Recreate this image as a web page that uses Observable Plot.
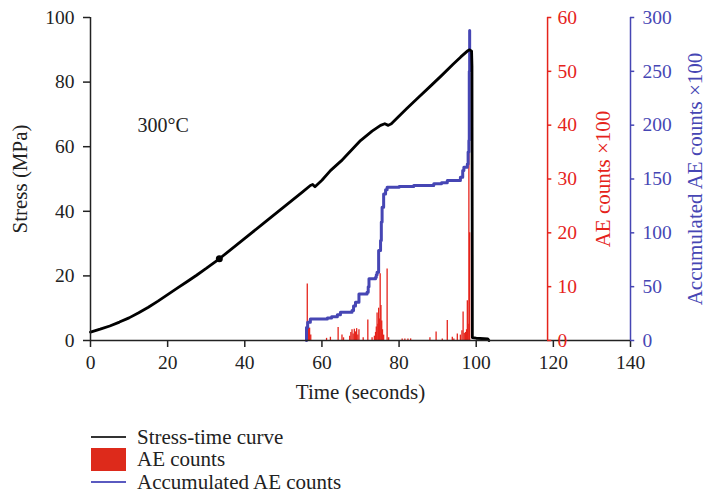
<!DOCTYPE html>
<html><head><meta charset="utf-8">
<script src="https://cdn.jsdelivr.net/npm/d3@7"></script>
<script src="https://cdn.jsdelivr.net/npm/@observablehq/plot@0.6"></script>
<style>
body{margin:0;background:#fff;font-family:"Liberation Serif",serif;}
#legend{margin-left:91px;margin-top:11px;font-size:21px;color:#222;}
.row{display:flex;align-items:center;height:22.5px;}
.sw{width:35px;margin-right:11px;flex:none;}
</style></head><body>
<div id="chart"></div>
<div id="legend"></div>
<script>
const xTicks = [0,20,40,60,80,100,120,140];
const stressTicks = [0,20,40,60,80,100];
const aeTicks = [0,10,20,30,40,50,60];
const accTicks = [0,50,100,150,200,250,300];

const stressTime = [0,2.5,5,7.5,10,12.5,15,17.5,20,22.5,25,27.5,30,33.4,40,45,50,55,57,57.6,58.2,60,62.2,65,70,73,75.2,76.3,77.2,78,79.5,82,85,88,91,94,96,97.7,98.3,98.8,98.9,99.0,100,103,103.3];
const stressValue = [2.6,3.5,4.5,5.7,7.0,8.6,10.3,12.2,14.2,16.2,18.2,20.2,22.3,25.3,31.6,36.4,41.2,46,48,48.3,47.6,49.6,52.6,55.6,61.9,64.8,66.6,67.1,66.6,67.1,68.9,71.8,75.2,78.6,82,85.5,87.8,89.6,90,89.6,85,0.9,0.7,0.5,0];

const markerTime = [33.4];
const markerValue = [25.3];

const aeTime = [56.2,56.5,56.8,57.1,61.2,62.2,64.2,65.2,65.6,67.2,67.5,67.8,68.1,68.4,68.7,69.0,69.3,69.6,70.7,71.9,73.0,73.6,73.9,74.1,74.3,74.5,74.7,74.9,75.1,75.3,75.5,75.7,76.0,76.9,77.3,80.8,81.5,82.3,83.0,88.0,89.6,91.2,92.5,93.8,94.2,95.1,95.9,96.3,96.6,96.9,97.2,97.5,97.7,97.9,98.1,98.3];
const aeValue = [10.5,2.5,2.3,1.0,0.4,0.6,2.4,1.0,0.5,0.8,1.5,2.0,1.2,2.1,1.6,2.2,1.0,2.0,0.5,3.8,0.5,0.8,1.5,2.5,5.1,3.0,6.0,4.0,12.4,6.5,3.6,2.0,1.0,13.3,0.5,0.3,0.3,0.3,0.3,0.5,1.6,0.3,3.7,0.6,0.3,1.2,1.0,1.8,5.3,1.3,1.5,2.0,7.4,3.0,37.0,20.0];

const accTime = [56.0,56.0,56.3,57.0,61.4,62.5,64.0,64.8,67.8,68.2,68.7,69.6,71.7,72.0,72.2,73.9,74.1,74.3,74.7,75.2,75.4,75.6,76.0,76.5,76.9,80,83.8,89,91,92.5,95.9,96.5,96.8,97.7,97.9,98.1,98.2,98.3];
const accValue = [0,12,17,20,21,22,24,26.3,27.9,32,35.6,43.3,44.9,50,57.3,58.8,61,63.4,83.6,92.9,110,123.8,136,140,142.3,143,144,145.5,146.5,148.6,151.6,158,161,164,175,185.7,250,288];

const aeAxisAt = 118.5, accAxisAt = 140;
const aeMax = 60, accMax = 300, stressMax = 100;
const RED = "#e5231b", BLUE = "#4646b4";

const stress = stressTime.map((t,i)=>({t, v: stressValue[i]}));
const ae = aeTime.map((t,i)=>({t, v: aeValue[i] * stressMax / aeMax}));
const acc = accTime.map((t,i)=>({t, v: accValue[i] * stressMax / accMax}));
const marker = markerTime.map((t,i)=>({t, v: markerValue[i]}));
const aeT = aeTicks.map(d=>({d, y: d*stressMax/aeMax}));
const accT = accTicks.map(d=>({d, y: d*stressMax/accMax}));

const TICK = 19.5, TITLE = 21;
const chart = Plot.plot({
  width: 709, height: 415,
  marginLeft: 90, marginRight: 79, marginTop: 17, marginBottom: 75,
  style: {fontFamily: '"Liberation Serif", serif', fontSize: TICK + "px", color: "#222", background: "#fff"},
  x: {domain: [0,140]},
  y: {domain: [0,100]},
  marks: [
    Plot.ruleX(ae, {x: "t", y1: 0, y2: "v", stroke: RED, strokeWidth: 1.3}),
    Plot.line(acc, {x: "t", y: "v", stroke: BLUE, strokeWidth: 3, curve: "step-after"}),
    Plot.line(stress, {x: "t", y: "v", stroke: "#000", strokeWidth: 2.8}),
    Plot.dot(marker, {x: "t", y: "v", r: 3.5, fill: "#000"}),
    Plot.text(["300°C"], {x: 12.2, y: 66.5, textAnchor: "start", fontSize: 20, fill: "#222"}),
    // left & bottom axes
    Plot.axisY({ticks: stressTicks, tickSize: 7, tickPadding: 9, label: null, strokeWidth: 1.5, fontSize: TICK}),
    Plot.axisX({ticks: xTicks, tickSize: 7, tickPadding: 8, label: null, strokeWidth: 1.5, fontSize: TICK}),
    Plot.ruleX([0], {stroke: "#222", strokeWidth: 1.5}),
    Plot.ruleY([0], {stroke: "#222", strokeWidth: 1.5}),
    Plot.text(["Stress (MPa)"], {frameAnchor: "left", textAnchor: "middle", dx: -70, rotate: -90, fontSize: TITLE, fill: "#222"}),
    Plot.text(["Time (seconds)"], {frameAnchor: "bottom", textAnchor: "middle", dy: 58, fontSize: TITLE, fill: "#222"}),
    // AE counts axis
    Plot.ruleX([aeAxisAt], {y1: 0, y2: 100, stroke: RED, strokeWidth: 1.5}),
    Plot.ruleY(aeT, {y: "y", x1: aeAxisAt, x2: aeAxisAt + 1.1, stroke: RED, strokeWidth: 1.5}),
    Plot.text(aeT, {x: aeAxisAt, y: "y", text: "d", dx: 10, textAnchor: "start", fill: RED, fontSize: TICK}),
    Plot.text(["AE counts ×100"], {frameAnchor: "right", textAnchor: "middle", dx: -27, rotate: -90, fill: RED, fontSize: TITLE}),
    // accumulated axis
    Plot.ruleX([accAxisAt], {y1: 0, y2: 100, stroke: BLUE, strokeWidth: 1.5}),
    Plot.ruleY(accT, {y: "y", x1: accAxisAt, x2: accAxisAt + 1.1, stroke: BLUE, strokeWidth: 1.5}),
    Plot.text(accT, {x: accAxisAt, y: "y", text: "d", dx: 12, textAnchor: "start", fill: BLUE, fontSize: TICK}),
    Plot.text(["Accumulated AE counts ×100"], {frameAnchor: "right", textAnchor: "middle", dx: 65, rotate: -90, fill: BLUE, fontSize: TITLE})
  ]
});
document.getElementById("chart").append(chart);

const legendItems = [
  {label: "Stress-time curve", type: "line", color: "#333"},
  {label: "AE counts", type: "rect", color: "#dd2a1b"},
  {label: "Accumulated AE counts", type: "line", color: "#5a5ac0"}
];
const lg = document.getElementById("legend");
for (const it of legendItems) {
  const row = document.createElement("div");
  row.className = "row";
  const sw = document.createElement("div");
  sw.className = "sw";
  if (it.type === "line") { sw.style.height = "2px"; sw.style.background = it.color; }
  else { sw.style.height = "23px"; sw.style.background = it.color; }
  const tx = document.createElement("span");
  tx.textContent = it.label;
  row.append(sw, tx);
  lg.append(row);
}
</script>
</body></html>
